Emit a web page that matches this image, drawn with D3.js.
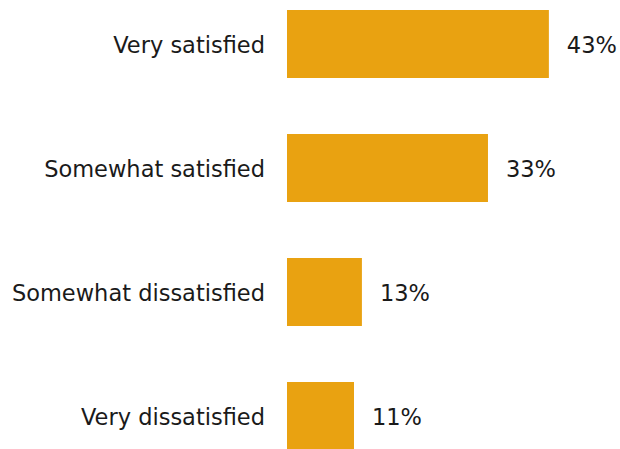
<!DOCTYPE html>
<html><head><meta charset="utf-8">
<script src="https://cdn.jsdelivr.net/npm/d3@7"></script>
<style>body{margin:0;background:#fff}svg{display:block}</style>
</head><body>
<svg id="c" width="620" height="449"></svg>
<script>
const categories = ["Very satisfied","Somewhat satisfied","Somewhat dissatisfied","Very dissatisfied"];
const values = [43, 33, 12.3, 11];
const labels = ["43%","33%","13%","11%"];

const svg = d3.select("#c");
const x = d3.scaleLinear().domain([0,100]).range([287, 287+609]);
const y = d3.scaleBand().domain(categories).range([-18, 478]).paddingInner(0.4516).paddingOuter(0.2258);
const font = "'DejaVu Sans', Verdana, sans-serif";
const fs = 22.5;

svg.selectAll("rect.bar").data(categories).enter().append("rect")
  .attr("class","bar")
  .attr("x", x(0))
  .attr("y", d => y(d))
  .attr("width", (d,i) => x(values[i]) - x(0))
  .attr("height", y.bandwidth())
  .attr("fill", "#E9A211");

svg.selectAll("text.cat").data(categories).enter().append("text")
  .attr("class","cat")
  .attr("x", x(0) - 22)
  .attr("y", d => y(d) + y.bandwidth()/2 + 8.5)
  .attr("text-anchor","end")
  .attr("font-family", font).attr("font-size", fs).attr("fill","#1a1a1a")
  .text(d => d);

svg.selectAll("text.val").data(categories).enter().append("text")
  .attr("class","val")
  .attr("x", (d,i) => x(values[i]) + 18)
  .attr("y", d => y(d) + y.bandwidth()/2 + 8.5)
  .attr("font-family", font).attr("font-size", fs).attr("fill","#1a1a1a")
  .text((d,i) => labels[i]);
</script>
</body></html>
